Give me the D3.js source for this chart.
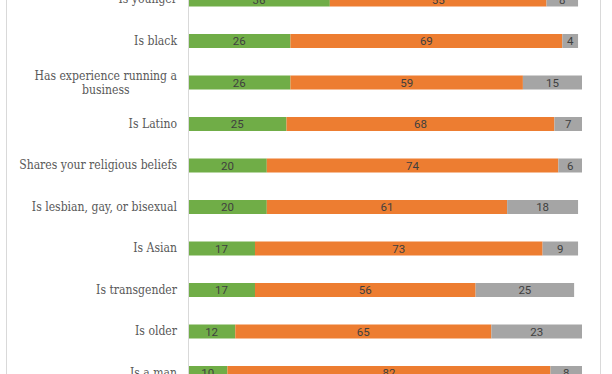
<!DOCTYPE html>
<html>
<head>
<meta charset="utf-8">
<script src="https://cdn.jsdelivr.net/npm/d3@7"></script>
<style>
  html, body { margin: 0; padding: 0; background: #fff; }
  svg { display: block; }
</style>
</head>
<body>
<div id="chart"></div>
<script>
const categories = [
  "Is younger",
  "Is black",
  "Has experience running a business",
  "Is Latino",
  "Shares your religious beliefs",
  "Is lesbian, gay, or bisexual",
  "Is Asian",
  "Is transgender",
  "Is older",
  "Is a man"
];
const moreLikely = [36, 26, 26, 25, 20, 20, 17, 17, 12, 10];
const noDifference = [55, 69, 59, 68, 74, 61, 73, 56, 65, 82];
const lessLikely = [8, 4, 15, 7, 6, 18, 9, 25, 23, 8];

const seriesKeys = ["moreLikely", "noDifference", "lessLikely"];
const colors = ["#70ad47", "#ed7d31", "#a5a5a5"];

const width = 612, height = 374;
const left = 188;

const rows = categories.map((c, i) => ({
  name: c,
  moreLikely: moreLikely[i],
  noDifference: noDifference[i],
  lessLikely: lessLikely[i]
}));

const svg = d3.select("#chart").append("svg")
  .attr("width", width)
  .attr("height", height);

// frame of the chart area (top and bottom edges fall outside the crop)
svg.append("rect")
  .attr("x", 6.5)
  .attr("y", -10)
  .attr("width", 594)
  .attr("height", height + 20)
  .attr("fill", "none")
  .attr("stroke", "#d9d9d9");

const x = d3.scaleLinear().domain([0, 100]).range([left, left + 394]);

// 41.5px step, 14px bars
const step = 41.5;
const y0 = -21.25;
const y = d3.scaleBand()
  .domain(categories)
  .range([y0, y0 + step * categories.length])
  .paddingInner(1 - 14 / step)
  .paddingOuter((1 - 14 / step) / 2);

const stacked = d3.stack().keys(seriesKeys)(rows);

const layers = svg.append("g").selectAll("g")
  .data(stacked)
  .join("g")
  .attr("fill", (d, i) => colors[i]);

layers.selectAll("rect")
  .data(d => d)
  .join("rect")
  .attr("x", d => x(d[0]))
  .attr("y", d => y(d.data.name))
  .attr("width", d => x(d[1]) - x(d[0]))
  .attr("height", y.bandwidth());

// 数值标签
const valueLabels = svg.append("g")
  .attr("font-family", "Roboto, 'Noto Sans', sans-serif")
  .attr("font-size", 11.5)
  .attr("fill", "#3f3f3f")
  .attr("text-anchor", "middle");

stacked.forEach(layer => {
  valueLabels.selectAll(null)
    .data(layer)
    .join("text")
    .attr("x", d => (x(d[0]) + x(d[1])) / 2)
    .attr("y", d => y(d.data.name) + y.bandwidth() / 2)
    .attr("dy", "0.36em")
    .text(d => d[1] - d[0]);
});

// 分类轴
const axis = svg.append("g")
  .attr("transform", `translate(${left},0)`)
  .call(d3.axisLeft(y).tickSize(0).tickPadding(11));

axis.select(".domain")
  .attr("stroke", "#d9d9d9")
  .attr("shape-rendering", "crispEdges");

axis.selectAll(".tick text")
  .attr("font-family", "'DejaVu Serif Condensed', 'DejaVu Serif', serif")
  .attr("font-stretch", "condensed")
  .attr("fill", "#595959");

// fit the label font so the longest single-line label spans ~158px
const probe = axis.selectAll(".tick text")
  .filter(d => d === "Shares your religious beliefs");
probe.attr("font-size", 12);
const fontSize = 12 * 158 / probe.node().getComputedTextLength();
axis.selectAll(".tick text").attr("font-size", fontSize);

const maxWidth = 162;
axis.selectAll(".tick text").each(function(d) {
  const text = d3.select(this);
  if (this.getComputedTextLength() <= maxWidth) return;
  const words = d.split(" ");
  const lines = [];
  let line = [];
  words.forEach(w => {
    line.push(w);
    text.text(line.join(" "));
    if (this.getComputedTextLength() > maxWidth && line.length > 1) {
      line.pop();
      lines.push(line.join(" "));
      line = [w];
    }
  });
  lines.push(line.join(" "));
  text.text(lines[0]);
  const blockWidth = this.getComputedTextLength();
  text.text(null).attr("text-anchor", "middle").attr("dy", null);
  const lh = 13.5;
  const cx = -11 - blockWidth / 2;
  lines.forEach((l, i) => {
    text.append("tspan")
      .attr("x", cx)
      .attr("y", (i - (lines.length - 1) / 2) * lh)
      .attr("dy", "0.36em")
      .text(l);
  });
});
</script>
</body>
</html>
